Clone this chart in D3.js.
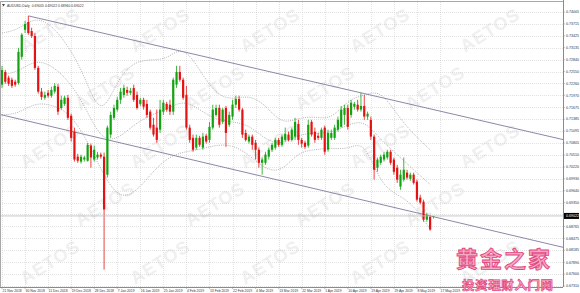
<!DOCTYPE html>
<html>
<head>
<meta charset="utf-8">
<script src="https://cdn.jsdelivr.net/npm/d3@7"></script>
<style>
  body { margin: 0; background: #fff; }
  svg { display: block; font-family: "Liberation Sans", Arial, sans-serif; }
</style>
</head>
<body>
<div id="chart"></div>
<script>
// AUDUSD daily candles (index 0 = first bar on the left)
var openP = [
  .7223,.7254,.7240,.7235,.7230,.7227,.7291,.7357,.7376,.7354,
  .7342,.7264,.7206,.7191,.7203,.7196,.7206,.7218,.7166,.7176,
  .7191,.7147,.7108,.7047,.7035,.7040,.7037,.7074,.7040,.7045,
  .7052,.7047,.7003,.7101,.7142,.7162,.7186,.7198,.7210,.7203,
  .7215,.7198,.7176,.7186,.7176,.7157,.7125,.7118,.7113,.7157,
  .7176,.7174,.7157,.7223,.7254,.7235,.7198,.7118,.7093,.7069,
  .7093,.7069,.7098,.7088,.7118,.7149,.7166,.7132,.7166,.7125,
  .7145,.7174,.7188,.7162,.7105,.7084,.7096,.7081,.7064,.7032,
  .7032,.7047,.7064,.7069,.7088,.7076,.7088,.7101,.7088,.7096,
  .7127,.7088,.7081,.7074,.7132,.7108,.7098,.7093,.7118,.7064,
  .7093,.7093,.7113,.7120,.7149,.7166,.7149,.7169,.7174,.7162,
  .7171,.7145,.7137,.7096,.7020,.7032,.7040,.7045,.7059,.7040,
  .7020,.6974,.6991,.7008,.6993,.7003,.6986,.6947,.6937,.6893,
  .6900,.69005
];
var highP = [
  .7269,.7259,.7245,.7240,.7235,.7313,.7349,.7379,.7391,.7362,
  .7349,.7269,.7215,.7206,.7210,.7218,.7227,.7225,.7196,.7196,
  .7198,.7152,.7118,.7054,.7052,.7049,.7081,.7079,.7074,.7059,
  .7057,.7057,.7123,.7157,.7174,.7193,.7215,.7223,.7218,.7215,
  .7223,.7206,.7191,.7191,.7186,.7162,.7142,.7162,.7186,.7186,
  .7181,.7186,.7240,.7269,.7269,.7240,.7220,.7125,.7101,.7101,
  .7098,.7105,.7103,.7132,.7174,.7174,.7174,.7166,.7171,.7157,
  .7186,.7196,.7196,.7166,.7113,.7101,.7101,.7088,.7069,.7045,
  .7059,.7069,.7081,.7093,.7093,.7101,.7118,.7108,.7118,.7142,
  .7137,.7093,.7086,.7137,.7137,.7118,.7105,.7118,.7123,.7113,
  .7113,.7125,.7145,.7171,.7174,.7174,.7186,.7181,.7186,.7203,
  .7198,.7157,.7145,.7101,.7045,.7052,.7059,.7064,.7064,.7045,
  .7027,.7015,.7045,.7015,.7008,.7008,.6991,.6954,.6942,.6910,
  .6905,.69022
];
var lowP = [
  .7215,.7225,.7220,.7215,.7218,.7223,.7284,.7349,.7345,.7337,
  .7259,.7201,.7186,.7186,.7191,.7191,.7201,.7149,.7162,.7171,
  .7137,.7084,.7035,.7032,.7030,.7035,.7035,.7020,.7035,.7040,
  .7042,.6771,.6996,.7093,.7137,.7157,.7176,.7191,.7196,.7198,
  .7181,.7162,.7171,.7162,.7142,.7113,.7096,.7081,.7105,.7149,
  .7157,.7149,.7149,.7215,.7230,.7186,.7113,.7081,.7059,.7064,
  .7071,.7064,.7079,.7081,.7113,.7145,.7118,.7127,.7071,.7120,
  .7137,.7166,.7157,.7093,.7084,.7079,.7064,.7040,.7020,.7003,
  .7027,.7040,.7059,.7064,.7071,.7071,.7084,.7084,.7084,.7088,
  .7076,.7069,.7066,.7069,.7096,.7081,.7088,.7088,.7052,.7059,
  .7088,.7088,.7108,.7118,.7125,.7113,.7142,.7162,.7157,.7157,
  .7137,.7137,.7088,.6991,.7010,.7027,.7035,.7040,.7027,.7003,
  .6983,.6966,.6986,.6991,.6988,.6979,.6937,.6930,.6888,.6888,
  .6866,.68960
];
var closeP = [
  .7259,.7230,.7225,.7220,.7223,.7303,.7345,.7371,.7349,.7342,
  .7264,.7206,.7193,.7198,.7196,.7210,.7220,.7157,.7186,.7191,
  .7142,.7093,.7040,.7037,.7047,.7045,.7076,.7045,.7064,.7052,
  .7047,.6918,.7118,.7149,.7166,.7186,.7206,.7215,.7203,.7208,
  .7186,.7166,.7186,.7169,.7149,.7118,.7101,.7088,.7162,.7179,
  .7162,.7157,.7235,.7254,.7235,.7191,.7118,.7088,.7064,.7093,
  .7076,.7096,.7084,.7120,.7162,.7166,.7125,.7162,.7105,.7149,
  .7174,.7188,.7162,.7101,.7088,.7096,.7076,.7064,.7032,.7040,
  .7052,.7064,.7076,.7088,.7076,.7096,.7103,.7088,.7113,.7132,
  .7088,.7079,.7071,.7125,.7101,.7088,.7093,.7113,.7059,.7105,
  .7105,.7118,.7137,.7162,.7166,.7120,.7179,.7176,.7162,.7171,
  .7145,.7152,.7096,.7015,.7040,.7047,.7052,.7059,.7032,.7010,
  .6991,.7003,.7015,.6996,.7003,.6983,.6942,.6935,.6893,.6905,
  .6869,.69022
];

// Bollinger bands, read every 5 bars
var bbIdx = [0,5,10,15,20,25,30,35,40,45,50,55,60,65,70,75,80,85,90,95,100,105,110,115,120,125,130];
var bbUpper = [.7349,.7357,.7389,.7369,.7320,.7247,.7137,.7235,.7279,.7284,.7284,.7320,.7259,.7198,.7186,.7198,.7174,.7125,.7142,.7145,.7137,.7186,.7198,.7210,.7149,.7101,.7064];
var bbMid = [.7247,.7254,.7284,.7271,.7235,.7174,.7088,.7088,.7125,.7149,.7162,.7186,.7162,.7137,.7132,.7125,.7088,.7076,.7101,.7105,.7105,.7125,.7137,.7088,.7052,.7015,.6979];
var bbLower = [.7149,.7152,.7179,.7174,.7157,.7101,.7015,.6947,.6954,.7003,.7044,.7059,.7064,.7076,.7076,.7052,.7015,.7010,.7059,.7064,.7069,.7064,.7088,.6979,.6954,.6930,.6869];

// channel lines: two anchor points each [bar index, price]
var upperChannel = [[8, 0.7391], [109, 0.7203]];
var lowerChannel = [[0, 0.7149], [79, 0.6999]];

// axis labels
var priceTicks = ["0.74005","0.73715","0.73425","0.73135","0.72840","0.72550","0.72260","0.71970",
  "0.71675","0.71385","0.71095","0.70805","0.70510","0.70220","0.69930","0.69640","0.69350",
  "0.69060","0.68765","0.68475","0.68185","0.67890","0.67600","0.67310"];
var dateLabels = ["21 Nov 2018","30 Nov 2018","11 Dec 2018","19 Dec 2018","28 Dec 2018","7 Jan 2019",
  "16 Jan 2019","25 Jan 2019","4 Feb 2019","13 Feb 2019","22 Feb 2019","4 Mar 2019","13 Mar 2019",
  "22 Mar 2019","1 Apr 2019","10 Apr 2019","19 Apr 2019","29 Apr 2019","8 May 2019","17 May 2019"];
var barsPerLabel = 7;
var headerText = "AUDUSD,Daily  0.69005 0.69022 0.68960 0.69022";

// Define SVG area
var svgWidth = 580;
var svgHeight = 293;
var plot = { left: 0, right: 563, top: 2, bottom: 287 };

var svg = d3.select("#chart")
  .append("svg")
  .attr("width", svgWidth)
  .attr("height", svgHeight);

svg.append("rect").attr("width", svgWidth).attr("height", svgHeight).attr("fill", "#fff");

// scales
var xScale = d3.scaleLinear().domain([0, 133]).range([2, 440]);
var yScale = d3.scaleLinear()
  .domain([+priceTicks[priceTicks.length - 1], +priceTicks[0]])
  .range([286, 12]);

svg.append("clipPath").attr("id", "plotclip")
  .append("rect")
  .attr("x", plot.left).attr("y", plot.top)
  .attr("width", plot.right - plot.left).attr("height", plot.bottom - plot.top);

// watermark
var wm = svg.append("g");
for (var r = 0; r < 5; r++) {
  for (var c = 0; c < 5; c++) {
    var cx = 50 + c * 110 + (r % 2) * 55;
    var cy = 30 + r * 58;
    if (cx > 520) continue;
    wm.append("text")
      .attr("transform", `translate(${cx},${cy}) rotate(-32)`)
      .attr("text-anchor", "middle")
      .attr("dy", "0.35em")
      .attr("font-size", 18)
      .attr("font-weight", "bold")
      .attr("letter-spacing", 1)
      .attr("fill", "#000")
      .attr("opacity", 0.06)
      .text("AETOS");
  }
}

// grid
var grid = svg.append("g").attr("stroke", "#cfcfcf").attr("stroke-width", 0.6).attr("stroke-dasharray", "1,1");
priceTicks.forEach(function(t) {
  grid.append("line")
    .attr("x1", plot.left).attr("x2", plot.right)
    .attr("y1", Math.round(yScale(+t)) + 0.5).attr("y2", Math.round(yScale(+t)) + 0.5);
});
dateLabels.forEach(function(d, k) {
  var x = Math.round(xScale(k * barsPerLabel)) + 0.5;
  grid.append("line").attr("x1", x).attr("x2", x).attr("y1", plot.top).attr("y2", plot.bottom);
});

var chart = svg.append("g").attr("clip-path", "url(#plotclip)");

// Bollinger bands (dotted)
var bbLine = d3.line()
  .x(function(d, k) { return xScale(bbIdx[k]); })
  .y(function(d) { return yScale(d); })
  .curve(d3.curveBasis);
[bbUpper, bbMid, bbLower].forEach(function(series) {
  chart.append("path")
    .attr("d", bbLine(series))
    .attr("fill", "none")
    .attr("stroke", "#909090")
    .attr("stroke-width", 0.7)
    .attr("stroke-dasharray", "1,1.2");
});

// channel lines
function channelLine(pts, fromIdx, toIdx) {
  var slope = (pts[1][1] - pts[0][1]) / (pts[1][0] - pts[0][0]);
  var p = function(i) { return pts[0][1] + slope * (i - pts[0][0]); };
  chart.append("line")
    .attr("x1", xScale(fromIdx)).attr("y1", yScale(p(fromIdx)))
    .attr("x2", xScale(toIdx)).attr("y2", yScale(p(toIdx)))
    .attr("stroke", "#8c88a8")
    .attr("stroke-width", 1);
}
var rightIdx = xScale.invert(plot.right);
var leftIdx = xScale.invert(plot.left);
channelLine(upperChannel, upperChannel[0][0], rightIdx);
channelLine(lowerChannel, leftIdx, rightIdx);

// candles
var upColor = "#12a312";
var downColor = "#e41212";
var candles = chart.append("g");
openP.forEach(function(o, i) {
  var c = closeP[i];
  var col = c >= o ? upColor : downColor;
  var x = xScale(i);
  candles.append("line")
    .attr("x1", x).attr("x2", x)
    .attr("y1", yScale(highP[i])).attr("y2", yScale(lowP[i]))
    .attr("stroke", col).attr("stroke-width", 0.8);
  var yTop = yScale(Math.max(o, c));
  var yBot = yScale(Math.min(o, c));
  candles.append("rect")
    .attr("x", x - 1.1).attr("width", 2.2)
    .attr("y", yTop).attr("height", Math.max(0.8, yBot - yTop))
    .attr("fill", col);
});

// bid line
var lastClose = closeP[closeP.length - 1];
var boxY = yScale(lastClose);
svg.append("line")
  .attr("x1", plot.left).attr("x2", plot.right)
  .attr("y1", boxY).attr("y2", boxY)
  .attr("stroke", "#bdbdbd").attr("stroke-width", 0.8);

// frame and axes
svg.append("line").attr("x1", 0).attr("x2", plot.right).attr("y1", 1.5).attr("y2", 1.5)
  .attr("stroke", "#a8a8a8").attr("stroke-width", 1);
svg.append("line").attr("x1", 0.5).attr("x2", 0.5).attr("y1", 1.5).attr("y2", plot.bottom)
  .attr("stroke", "#a8a8a8").attr("stroke-width", 1);
svg.append("line").attr("x1", plot.right + 0.5).attr("x2", plot.right + 0.5).attr("y1", 0).attr("y2", plot.bottom)
  .attr("stroke", "#8a8a8a").attr("stroke-width", 1);
svg.append("line").attr("x1", 0).attr("x2", plot.right).attr("y1", plot.bottom + 0.5).attr("y2", plot.bottom + 0.5)
  .attr("stroke", "#8a8a8a").attr("stroke-width", 1);

var priceAxis = svg.append("g").attr("font-size", 3.6).attr("fill", "#333");
priceTicks.forEach(function(t) {
  var y = yScale(+t);
  svg.append("line").attr("x1", plot.right).attr("x2", plot.right + 2)
    .attr("y1", y).attr("y2", y).attr("stroke", "#8a8a8a").attr("stroke-width", 0.5);
  // the current-price box hides the tick label underneath it
  if (Math.abs(y - boxY) < 5) return;
  priceAxis.append("text").attr("x", plot.right + 3).attr("y", y).attr("dy", "0.35em").text(t);
});

// current price box
svg.append("rect").attr("x", plot.right + 1).attr("y", boxY - 3).attr("width", 15).attr("height", 6).attr("fill", "#000");
svg.append("text").attr("x", plot.right + 3).attr("y", boxY).attr("dy", "0.35em")
  .attr("font-size", 3.6).attr("fill", "#fff").text(lastClose.toFixed(5));

var dateAxis = svg.append("g").attr("font-size", 3.4).attr("fill", "#333");
dateLabels.forEach(function(d, k) {
  var x = xScale(k * barsPerLabel);
  svg.append("line").attr("x1", x).attr("x2", x).attr("y1", plot.bottom).attr("y2", plot.bottom + 2)
    .attr("stroke", "#8a8a8a").attr("stroke-width", 0.5);
  dateAxis.append("text").attr("x", x + 0.5).attr("y", 291.5).text(d);
});

// header
svg.append("path").attr("d", "M2,4 L5,4 L3.5,6.5 Z").attr("fill", "#444");
svg.append("text").attr("x", 7).attr("y", 6.5).attr("font-size", 3.4).attr("fill", "#333")
  .attr("xml:space", "preserve").text(headerText);

// site logo
var logo = svg.append("g").attr("font-family", "'Noto Sans CJK SC', sans-serif").attr("font-weight", "bold");
logo.append("text").attr("x", 456).attr("y", 267).attr("font-size", 22)
  .attr("fill", "#f5a9c3").attr("stroke", "#e2477f").attr("stroke-width", 0.9)
  .attr("letter-spacing", 2).text("黄金之家");
logo.append("text").attr("x", 462).attr("y", 290).attr("font-size", 12.5)
  .attr("fill", "#f5a9c3").attr("stroke", "#e2477f").attr("stroke-width", 0.7)
  .attr("letter-spacing", 0.6).text("投资理财入门网");
</script>
</body>
</html>
